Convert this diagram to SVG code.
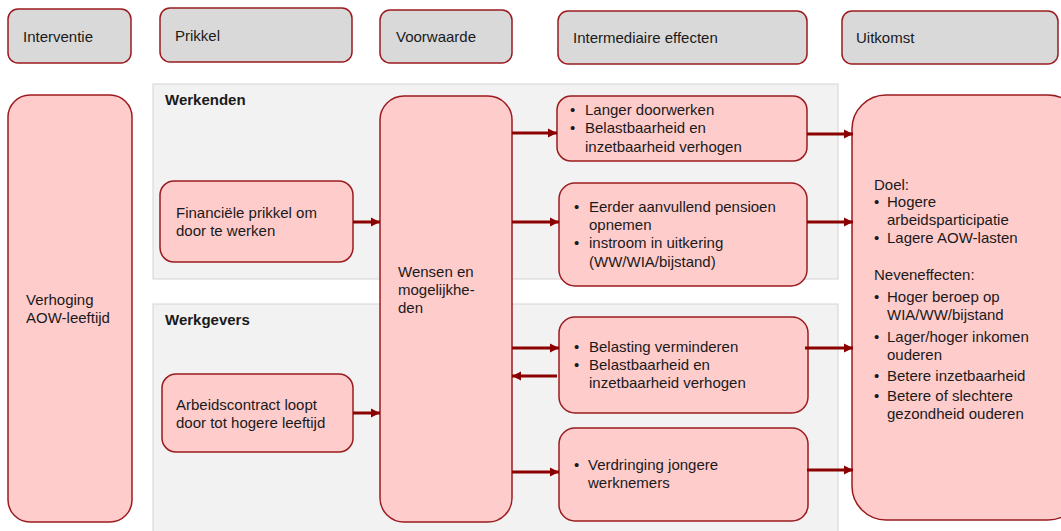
<svg xmlns="http://www.w3.org/2000/svg" width="1061" height="531" viewBox="0 0 1061 531">
<style>
text{font-family:"Liberation Sans",Arial,sans-serif;font-size:15px;fill:#1a1a1a}
.b{font-weight:bold}
.hdr{fill:#d9d9d9;stroke:#9b1b1f;stroke-width:1.5}
.nd{fill:#ffcccc;stroke:#9b1b1f;stroke-width:1.5}
.pnl{fill:#f2f2f2;stroke:#d4d4d4;stroke-width:1}
.ar{stroke:#8b0000;stroke-width:3;fill:none;marker-end:url(#ah)}
</style>
<defs>
<marker id="ah" markerUnits="userSpaceOnUse" markerWidth="10" markerHeight="10" refX="9" refY="5" orient="auto">
<path d="M0,0.5 L9,5 L0,9.5 Z" fill="#8b0000"/>
</marker>
</defs>
<rect width="1061" height="531" fill="#ffffff"/>
<g id="panels">
<rect class="pnl" x="153" y="84" width="685" height="195"/>
<rect class="pnl" x="153" y="304" width="685" height="240"/>
<text class="b" x="165" y="105">Werkenden</text>
<text class="b" x="165" y="325">Werkgevers</text>
</g>
<g id="h-interventie"><rect class="hdr" x="8" y="9" width="123" height="54" rx="10"/><text x="23" y="42">Interventie</text></g>
<g id="h-prikkel"><rect class="hdr" x="160" y="8" width="192" height="54" rx="10"/><text x="175" y="41">Prikkel</text></g>
<g id="h-voorwaarde"><rect class="hdr" x="380" y="10" width="132" height="53" rx="10"/><text x="396" y="42">Voorwaarde</text></g>
<g id="h-intermediair"><rect class="hdr" x="558" y="11" width="249" height="53" rx="10"/><text x="573" y="43">Intermediaire effecten</text></g>
<g id="h-uitkomst"><rect class="hdr" x="842" y="11" width="216" height="53" rx="10"/><text x="856" y="43">Uitkomst</text></g>

<g id="n-verhoging"><rect class="nd" x="8" y="95" width="124" height="427" rx="22"/><text x="26" y="305">Verhoging</text><text x="26" y="323">AOW-leeftijd</text></g>
<g id="n-financieel"><rect class="nd" x="160" y="181" width="193" height="81" rx="14"/><text x="176" y="218">Financiële prikkel om</text><text x="176" y="236">door te werken</text></g>
<g id="n-arbeidscontract"><rect class="nd" x="162" y="374" width="191" height="78" rx="14"/><text x="176" y="410">Arbeidscontract loopt</text><text x="176" y="428">door tot hogere leeftijd</text></g>
<g id="n-wensen"><rect class="nd" x="380" y="96" width="132" height="426" rx="24"/><text x="398" y="277">Wensen en</text><text x="398" y="295">mogelijkhe-</text><text x="398" y="313">den</text></g>
<g id="n-langer"><rect class="nd" x="557" y="96" width="250" height="65" rx="14"/>
<text x="570" y="115">•</text><text x="585" y="115">Langer doorwerken</text>
<text x="570" y="133">•</text><text x="585" y="133">Belastbaarheid en</text>
<text x="585" y="152">inzetbaarheid verhogen</text></g>
<g id="n-eerder"><rect class="nd" x="559" y="183" width="248" height="103" rx="16"/>
<text x="574" y="212">•</text><text x="589" y="212">Eerder aanvullend pensioen</text>
<text x="589" y="230">opnemen</text>
<text x="574" y="248">•</text><text x="589" y="248">instroom in uitkering</text>
<text x="589" y="267">(WW/WIA/bijstand)</text></g>
<g id="n-belasting"><rect class="nd" x="559" y="317" width="249" height="96" rx="16"/>
<text x="574" y="352">•</text><text x="589" y="352">Belasting verminderen</text>
<text x="574" y="370">•</text><text x="589" y="370">Belastbaarheid en</text>
<text x="589" y="388">inzetbaarheid verhogen</text></g>
<g id="n-verdringing"><rect class="nd" x="559" y="428" width="249" height="93" rx="16"/>
<text x="574" y="470">•</text><text x="588" y="470">Verdringing jongere</text>
<text x="588" y="488">werknemers</text></g>
<g id="n-uitkomst"><rect class="nd" x="852" y="95" width="230" height="425" rx="34"/>
<text x="874" y="190">Doel:</text>
<text x="874" y="207">•</text><text x="887" y="207">Hogere</text>
<text x="887" y="225">arbeidsparticipatie</text>
<text x="874" y="243">•</text><text x="887" y="243">Lagere AOW-lasten</text>
<text x="874" y="280">Neveneffecten:</text>
<text x="874" y="302">•</text><text x="887" y="302">Hoger beroep op</text>
<text x="887" y="320">WIA/WW/bijstand</text>
<text x="874" y="342">•</text><text x="887" y="342">Lager/hoger inkomen</text>
<text x="887" y="360">ouderen</text>
<text x="874" y="381">•</text><text x="887" y="381">Betere inzetbaarheid</text>
<text x="874" y="401">•</text><text x="887" y="401">Betere of slechtere</text>
<text x="887" y="419">gezondheid ouderen</text></g>

<g id="connectors">
<line class="ar" x1="353" y1="222" x2="380" y2="222"/>
<line class="ar" x1="353" y1="413" x2="380" y2="413"/>
<line class="ar" x1="512" y1="133" x2="557" y2="133"/>
<line class="ar" x1="512" y1="222" x2="559" y2="222"/>
<line class="ar" x1="512" y1="348" x2="559" y2="348"/>
<line class="ar" x1="557" y1="376" x2="512" y2="376"/>
<line class="ar" x1="512" y1="472" x2="559" y2="472"/>
<line class="ar" x1="807" y1="134" x2="853" y2="134"/>
<line class="ar" x1="807" y1="222" x2="853" y2="222"/>
<line class="ar" x1="805" y1="348" x2="853" y2="348"/>
<line class="ar" x1="807" y1="470" x2="853" y2="470"/>
</g>
</svg>
